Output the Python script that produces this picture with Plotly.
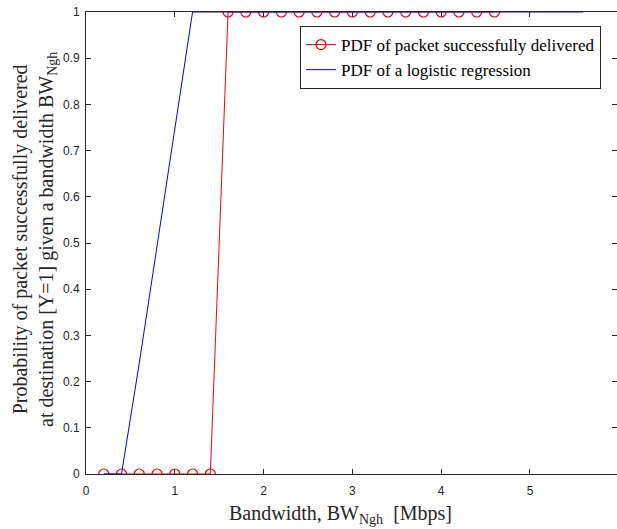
import plotly.graph_objects as go

# Data
red_x = [0.2, 0.4, 0.6, 0.8, 1.0, 1.2, 1.4, 1.6, 1.8, 2.0, 2.2, 2.4, 2.6, 2.8, 3.0,
         3.2, 3.4, 3.6, 3.8, 4.0, 4.2, 4.4, 4.6]
red_y = [0, 0, 0, 0, 0, 0, 0, 1, 1, 1, 1, 1, 1, 1, 1, 1, 1, 1, 1, 1, 1, 1, 1]

blue_x = [0.2, 0.4, 0.6, 0.8, 1.0, 1.2, 2.0, 3.0, 4.0, 5.0, 5.6]
blue_y = [0, 0, 0.24, 0.49, 0.74, 1, 1, 1, 1, 1, 1]

x_ticks = [0, 1, 2, 3, 4, 5, 6]
y_ticks = [0, 0.1, 0.2, 0.3, 0.4, 0.5, 0.6, 0.7, 0.8, 0.9, 1]
y_tick_text = ["0", "0.1", "0.2", "0.3", "0.4", "0.5", "0.6", "0.7", "0.8", "0.9", "1"]

AX = "#262626"

# plot area in page pixels
PL, PR, PT, PB = 86, 617, 12, 474
W, H = 617, 529
L, T, R = PL, PT, W - PR
B = H - PB
PW, PH = PR - PL, PB - PT


def px_x(x):
    return (x - PL) / PW


def px_y(y):
    return (PB - y) / PH


fig = go.Figure()
fig.add_trace(go.Scatter(
    x=red_x, y=red_y, mode="lines+markers",
    name="PDF of packet successfully delivered",
    line=dict(color="#ff0000", width=1),
    marker=dict(symbol="circle-open", size=10, color="#ff0000", line=dict(width=1.2)),
))
fig.add_trace(go.Scatter(
    x=blue_x, y=blue_y, mode="lines",
    name="PDF of a logistic regression",
    line=dict(color="#0000ff", width=1),
))

fig.update_layout(
    width=W, height=H,
    margin=dict(l=L, r=R, t=T, b=B, autoexpand=False),
    paper_bgcolor="white", plot_bgcolor="white",
    showlegend=True,
    legend=dict(
        x=px_x(300), y=px_y(26),
        xanchor="left", yanchor="top",
        bgcolor="white", bordercolor=AX, borderwidth=1,
        font=dict(family="Liberation Serif", size=17, color="#000000"),
        tracegroupgap=0, itemwidth=30,
    ),
    font=dict(family="Liberation Sans", size=12, color=AX),
)
fig.update_xaxes(
    range=[0, 5.98], tickvals=x_ticks, ticktext=[str(v) for v in x_ticks],
    showgrid=False, zeroline=False, showline=True, linecolor=AX, linewidth=1,
    mirror="ticks", ticks="inside", ticklen=5, tickcolor=AX,
    tickfont=dict(family="Liberation Sans", size=12, color=AX),
    ticklabelstandoff=6,
)
fig.update_yaxes(
    range=[0, 1], tickvals=y_ticks, ticktext=y_tick_text,
    showgrid=False, zeroline=False, showline=True, linecolor=AX, linewidth=1,
    mirror="ticks", ticks="inside", ticklen=5, tickcolor=AX,
    tickfont=dict(family="Liberation Sans", size=12, color=AX),
    ticklabelstandoff=3,
)

fig.add_annotation(
    text="Bandwidth, BW<sub>Ngh</sub>  [Mbps]",
    xref="paper", yref="paper",
    x=px_x(340), y=px_y(514),
    xanchor="center", yanchor="middle", showarrow=False,
    font=dict(family="Liberation Serif", size=20, color=AX),
)
fig.add_annotation(
    text="Probability of packet successfully delivered<br>at destination [Y=1] given a bandwidth BW<sub>Ngh</sub>",
    xref="paper", yref="paper",
    x=px_x(34), y=px_y(240),
    xanchor="center", yanchor="middle", showarrow=False, textangle=-90,
    font=dict(family="Liberation Serif", size=20, color=AX),
)

fig.write_html("out.html", config={"displayModeBar": False},
               post_script="document.body.style.margin='0';")
